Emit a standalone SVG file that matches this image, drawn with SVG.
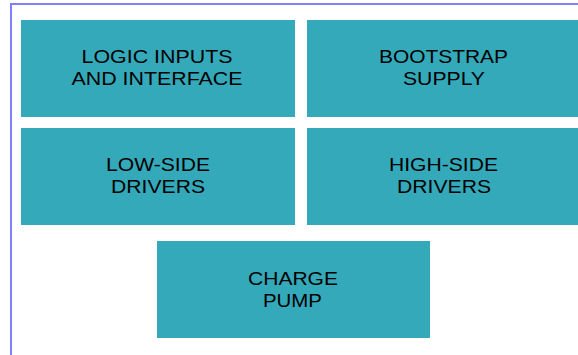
<svg xmlns="http://www.w3.org/2000/svg" width="578" height="355" viewBox="0 0 578 355">
<style>
.box{fill:#34a9ba}
.t{font-family:"Liberation Sans",Arial,sans-serif;font-size:18px;fill:#000;text-anchor:middle}
</style>
<rect x="0" y="0" width="578" height="355" fill="#fff"/>
<rect x="11" y="4" width="600" height="400" fill="none" stroke="#8080ff" stroke-width="2"/>
<g id="logic"><rect class="box" x="21" y="20" width="274" height="97"/><text class="t" x="157" y="63" textLength="151" lengthAdjust="spacingAndGlyphs">LOGIC INPUTS</text><text class="t" x="157" y="85" textLength="171" lengthAdjust="spacingAndGlyphs">AND INTERFACE</text></g>
<g id="bootstrap"><rect class="box" x="307" y="20" width="274" height="97"/><text class="t" x="443.5" y="63" textLength="129" lengthAdjust="spacingAndGlyphs">BOOTSTRAP</text><text class="t" x="444" y="85" textLength="82" lengthAdjust="spacingAndGlyphs">SUPPLY</text></g>
<g id="lowside"><rect class="box" x="21" y="128" width="274" height="97"/><text class="t" x="158" y="171" textLength="104" lengthAdjust="spacingAndGlyphs">LOW-SIDE</text><text class="t" x="158" y="193" textLength="94" lengthAdjust="spacingAndGlyphs">DRIVERS</text></g>
<g id="highside"><rect class="box" x="307" y="128" width="274" height="97"/><text class="t" x="443.5" y="171" textLength="109" lengthAdjust="spacingAndGlyphs">HIGH-SIDE</text><text class="t" x="444" y="193" textLength="94" lengthAdjust="spacingAndGlyphs">DRIVERS</text></g>
<g id="chargepump"><rect class="box" x="157" y="241" width="273" height="97"/><text class="t" x="293" y="285" textLength="90" lengthAdjust="spacingAndGlyphs">CHARGE</text><text class="t" x="292.5" y="307" textLength="59" lengthAdjust="spacingAndGlyphs">PUMP</text></g>
<g id="connectors"></g>
</svg>
